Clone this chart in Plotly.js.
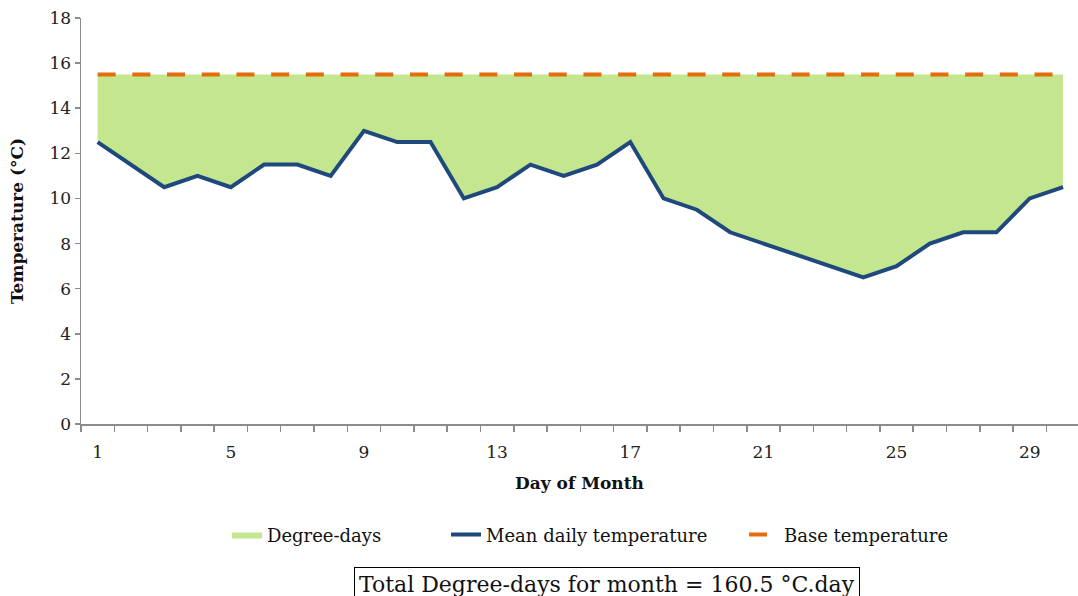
<!DOCTYPE html>
<html>
<head>
<meta charset="utf-8">
<script src="https://cdn.plot.ly/plotly-3.0.1.min.js"></script>
<style>html,body{margin:0;padding:0;background:#fff;}#chart{width:1078px;height:596px;}</style>
</head>
<body>
<div id="chart"></div>
<script>
const days = [1,2,3,4,5,6,7,8,9,10,11,12,13,14,15,16,17,18,19,20,21,22,23,24,25,26,27,28,29,30];
const meanTemp = [12.5,11.5,10.5,11,10.5,11.5,11.5,11,13,12.5,12.5,10,10.5,11.5,11,11.5,12.5,10,9.5,8.5,8,7.5,7,6.5,7,8,8.5,8.5,10,10.5];
const baseTemp = days.map(() => 15.5);
const xTickVals = [1,5,9,13,17,21,25,29];
const xTickText = ['1','5','9','13','17','21','25','29'];
const totalText = 'Total Degree-days for month = 160.5 °C.day';

const serif = 'DejaVu Serif, serif';
const legFont = {family: serif, size: 18, color: '#111'};
const traces = [
  {x: days, y: meanTemp, type: 'scatter', mode: 'lines', line: {width: 0, color: 'rgba(0,0,0,0)'}, showlegend: false, hoverinfo: 'skip'},
  {x: days, y: baseTemp, type: 'scatter', mode: 'lines', fill: 'tonexty', fillcolor: '#C3E68F', line: {width: 0, color: '#C3E68F'}, name: 'Degree-days', legend: 'legend'},
  {x: days, y: meanTemp, type: 'scatter', mode: 'lines', line: {width: 4, color: '#1F497D'}, name: 'Mean daily temperature', legend: 'legend2'},
  {x: days, y: baseTemp, type: 'scatter', mode: 'lines', line: {width: 4, color: '#E46C0A', dash: '18px,16.7px'}, name: 'Base temperature', legend: 'legend3'}
];
const legBase = {orientation: 'h', xanchor: 'left', y: -0.273, yanchor: 'middle', font: legFont, bgcolor: 'rgba(0,0,0,0)'};
const layout = {
  width: 1078, height: 596,
  margin: {l: 81, r: 0, t: 18, b: 172},
  paper_bgcolor: '#fff', plot_bgcolor: '#fff',
  font: {family: serif, color: '#222', size: 17},
  showlegend: true,
  legend: Object.assign({}, legBase, {x: 0.1464}),
  legend2: Object.assign({}, legBase, {x: 0.3661}),
  legend3: Object.assign({}, legBase, {x: 0.665}),
  xaxis: {
    range: [0.5, 30.45], tickvals: xTickVals, ticktext: xTickText, ticks: '', ticklabelstandoff: 12,
    showline: true, linecolor: '#8c8c8c', linewidth: 1.5, showgrid: false, zeroline: false,
    tickfont: {family: serif, size: 17, color: '#222'},
    minor: {tick0: 0.5, dtick: 1, ticks: 'outside', ticklen: 6, tickcolor: '#8c8c8c', tickwidth: 1.5, showgrid: false},
    title: {text: '<b>Day of Month</b>', font: {family: serif, size: 17, color: '#111'}, standoff: 16}
  },
  yaxis: {
    range: [0, 18], tickvals: [0,2,4,6,8,10,12,14,16,18], ticks: 'outside', ticklen: 5, tickcolor: '#8c8c8c', tickwidth: 1.5,
    showline: true, linecolor: '#8c8c8c', linewidth: 1.5, showgrid: false, zeroline: false,
    tickfont: {family: serif, size: 17, color: '#222'},
    title: {text: '<b>Temperature (°C)</b>', font: {family: serif, size: 17, color: '#111'}, standoff: 21}
  },
  annotations: [{
    text: totalText, xref: 'paper', yref: 'paper', x: 0.528, y: -0.395, xanchor: 'center', yanchor: 'middle',
    showarrow: false, font: {family: serif, size: 22, color: '#111'}, bordercolor: '#000', borderwidth: 1, borderpad: 4, bgcolor: '#fff'
  }]
};
Plotly.newPlot('chart', traces, layout, {displayModeBar: false, staticPlot: true});
</script>
</body>
</html>
